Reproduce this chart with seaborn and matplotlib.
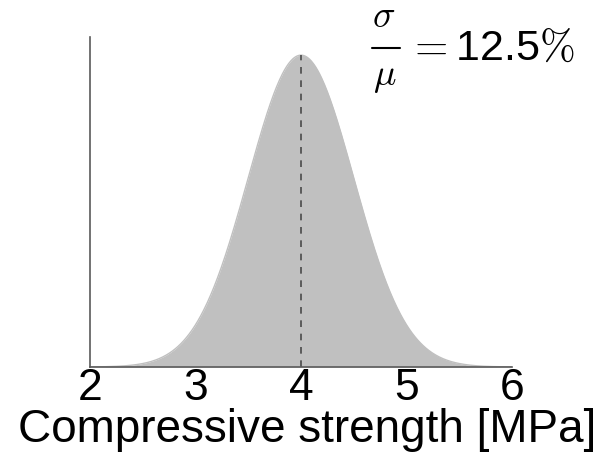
import numpy as np
import pandas as pd
import matplotlib
matplotlib.use("Agg")
import matplotlib.pyplot as plt
from matplotlib.lines import Line2D
import seaborn as sns

# Distribution parameters
mean_strength = 4.0          # MPa
cov = 0.125                  # sigma / mu
x_ticks = [2, 3, 4, 5, 6]
x_range = [2.0, 6.0]

sns.set_style("white")
plt.rcParams["font.family"] = ["Liberation Sans", "DejaVu Sans"]
plt.rcParams["mathtext.fontset"] = "cm"
plt.rcParams["text.color"] = "black"
plt.rcParams["xtick.color"] = "black"
plt.rcParams["axes.labelcolor"] = "black"

sigma = cov * mean_strength
x = np.linspace(x_range[0], x_range[1], 600)
pdf = np.exp(-0.5 * ((x - mean_strength) / sigma) ** 2) / (sigma * np.sqrt(2 * np.pi))
df = pd.DataFrame({"strength": x, "density": pdf})
peak = pdf.max()

W, H = 598, 455
fig = plt.figure(figsize=(W / 100, H / 100), dpi=100)
ax = fig.add_axes([90 / W, 1 - 367 / H, 422 / W, 330 / H])

sns.lineplot(data=df, x="strength", y="density", ax=ax, color="#c0c0c0", lw=1)
ax.fill_between(df["strength"], 0, df["density"], color="#c0c0c0", lw=0)
ax.plot([mean_strength, mean_strength], [0, peak], ls=(0, (4, 4)), color="#4a4a4a", lw=1.2)

ax.set_xlim(*x_range)
ax.set_ylim(0, peak / 0.945)
ax.set_xticks(x_ticks)
ax.set_xticklabels([str(t) for t in x_ticks])
ax.set_yticks([])
ax.tick_params(axis="x", direction="in", length=4, width=1, color="#666666",
               labelcolor="black", labelsize=32, pad=1)
ax.set_xlabel("Compressive strength [MPa]", fontsize=33, color="black")
ax.xaxis.set_label_coords(0.514, -0.125)
ax.xaxis.label.set_va("top")
ax.set_ylabel("")

for side in ["top", "right"]:
    ax.spines[side].set_visible(False)
for side in ["left", "bottom"]:
    ax.spines[side].set_color("#5a5a5a")
    ax.spines[side].set_linewidth(1.2)

# coefficient of variation annotation: sigma over mu
fig.text(384 / W, 1 - 27 / H, r"$\sigma$", fontsize=27, ha="center", va="baseline")
fig.text(385 / W, 1 - 85 / H, r"$\mu$", fontsize=27, ha="center", va="baseline")
fig.add_artist(Line2D([372 / W, 400 / W], [1 - 48 / H, 1 - 48 / H],
                      transform=fig.transFigure, color="black", lw=1.5))
fig.text(407 / W, 1 - 60 / H, r"$=$12.5$\%$", fontsize=31, ha="left", va="baseline")

fig.savefig("out.png", dpi=100)
